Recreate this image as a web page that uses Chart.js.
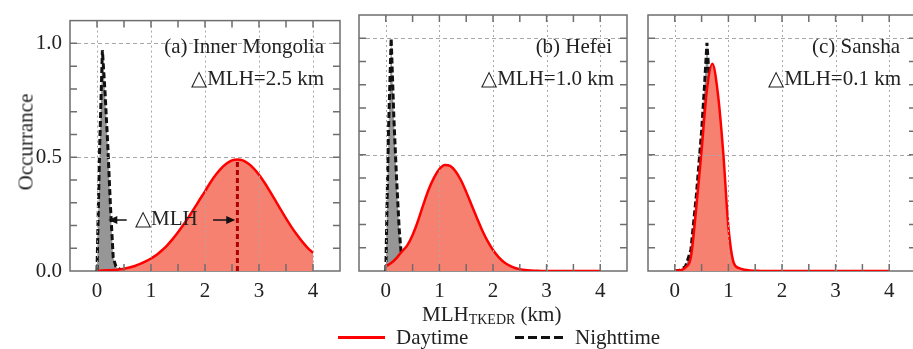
<!DOCTYPE html>
<html><head><meta charset="utf-8">
<script src="https://cdn.jsdelivr.net/npm/chart.js@4"></script>
<style>
html,body{margin:0;padding:0;width:913px;height:349px;overflow:hidden;background:#fff;font-family:"Liberation Serif","Times New Roman",serif;color:#222;}
.p{position:absolute;top:0;height:310px;}
.t{position:absolute;font-size:21px;white-space:nowrap;line-height:1;}
</style></head><body>
<div class="p" style="left:0;width:350px"><canvas id="ca"></canvas></div>
<div class="p" style="left:350px;width:287px"><canvas id="cb"></canvas></div>
<div class="p" style="left:637px;width:289px"><canvas id="cc"></canvas></div>

<div class="t" style="right:589px;top:36px">(a) Inner Mongolia</div>
<div class="t" style="right:589px;top:68px">△MLH=2.5 km</div>
<div class="t" style="left:135px;top:208px">△MLH</div>
<div class="t" style="right:301px;top:36px">(b) Hefei</div>
<div class="t" style="right:299px;top:68px">△MLH=1.0 km</div>
<div class="t" style="right:13px;top:36px">(c) Sansha</div>
<div class="t" style="right:12px;top:68px">△MLH=0.1 km</div>

<div class="t" style="left:26px;top:142px;transform:translate(-50%,-50%) rotate(-90deg)">Occurrance</div>
<div class="t" style="left:422px;top:304px">MLH<span style="font-size:14px;vertical-align:-3px">TKEDR</span> (km)</div>

<div style="position:absolute;left:338px;top:336px;width:47px;height:2.5px;background:#f00"></div>
<div class="t" style="left:396px;top:327px">Daytime</div>
<div style="position:absolute;left:515px;top:336px;width:50px;height:3px;background:repeating-linear-gradient(90deg,#111 0 9px,transparent 9px 13px)"></div>
<div class="t" style="left:575px;top:327px">Nighttime</div>

<script>
// ---- data ----
const xDay = [0,0.1,0.2,0.3,0.4,0.5,0.6,0.7,0.8,0.9,1.0,1.1,1.2,1.3,1.4,1.5,1.6,1.7,1.8,1.9,2.0,2.1,2.2,2.3,2.4,2.5,2.6,2.7,2.8,2.9,3.0,3.1,3.2,3.3,3.4,3.5,3.6,3.7,3.8,3.9,4.0];
const dayA = [0.001,0.002,0.003,0.004,0.006,0.010,0.015,0.022,0.031,0.042,0.055,0.070,0.090,0.113,0.140,0.170,0.203,0.238,0.275,0.313,0.350,0.389,0.423,0.451,0.472,0.486,0.490,0.486,0.472,0.451,0.423,0.389,0.351,0.311,0.271,0.231,0.194,0.160,0.129,0.102,0.080];
const dayB = [0.020,0.034,0.055,0.084,0.110,0.155,0.215,0.285,0.350,0.401,0.438,0.456,0.452,0.429,0.391,0.340,0.284,0.228,0.174,0.128,0.090,0.061,0.039,0.024,0.014,0.008,0.004,0.002,0.001,0,0,0,0,0,0,0,0,0,0,0,0];
const dayC = [0,0.003,0.015,0.060,0.270,0.520,0.780,0.890,0.770,0.520,0.190,0.035,0.012,0.005,0.002,0.001,0,0,0,0,0,0,0,0,0,0,0,0,0,0,0,0,0,0,0,0,0,0,0,0,0];
const xNight = [0,0.05,0.1,0.15,0.2,0.25,0.3,0.35,0.4,0.5];
const nightA = [0,0.55,0.97,0.78,0.55,0.28,0.06,0.02,0.01,0];
const nightB = [0,0.60,1.00,0.66,0.40,0.18,0.04,0.01,0.005,0];
const xNightC = [0,0.1,0.2,0.3,0.4,0.5,0.55,0.6,0.65,0.7,0.8,0.9,1.0,1.1,1.2];
const nightC = [0,0.003,0.02,0.09,0.32,0.60,0.78,0.98,0.80,0.60,0.35,0.15,0.05,0.01,0];
const peakXA = [2.6, 2.6];
const peakYA = [0, 0.49];
const arrowFromX = [0.55, 2.15];
const arrowToX = [0.21, 2.56];
const arrowY = [0.224, 0.224];
const xTickValues = [0,1,2,3,4];
const xTickLabels = ['0','1','2','3','4'];
const yTickValues = [0,0.5,1.0];
const yTickLabels = ['0.0','0.5','1.0'];
const xMinor = [0,0.5,1,1.5,2,2.5,3,3.5,4];
const yMinor = [0.1,0.2,0.3,0.4,0.5,0.6,0.7,0.8,0.9,1.0];
const xGrid = [0,1,2,3,4];
const yGrid = [0.5,1.0];

Chart.defaults.font.family = '"Liberation Serif","Times New Roman",serif';
Chart.defaults.color = '#222';

const pts = (xs, ys) => xs.map((x,i)=>({x:x, y:ys[i]}));

const framePlugin = {
  id:'frame',
  beforeDatasetsDraw(chart){
    const {ctx, chartArea:a} = chart;
    ctx.save();
    ctx.strokeStyle = '#6e6e6e'; ctx.lineWidth = 1.5;
    ctx.strokeRect(a.left, a.top, a.right-a.left, a.bottom-a.top);
    ctx.restore();
  },
  afterDatasetsDraw(chart){
    const {ctx, chartArea:a, scales:{x,y}} = chart;
    ctx.save();
    ctx.strokeStyle = '#a8a8a8'; ctx.lineWidth = 1;
    ctx.setLineDash([2,3]);
    xGrid.forEach(v=>{const p=Math.round(x.getPixelForValue(v))+0.5; ctx.beginPath(); ctx.moveTo(p,a.top); ctx.lineTo(p,a.bottom); ctx.stroke();});
    ctx.setLineDash([4,3]);
    yGrid.forEach(v=>{const p=Math.round(y.getPixelForValue(v))+0.5; ctx.beginPath(); ctx.moveTo(a.left,p); ctx.lineTo(a.right,p); ctx.stroke();});
    ctx.setLineDash([]);
    ctx.strokeStyle = '#6e6e6e'; ctx.lineWidth = 1.5;
    const L = 7;
    xMinor.forEach(v=>{const p=x.getPixelForValue(v); ctx.beginPath(); ctx.moveTo(p,a.bottom); ctx.lineTo(p,a.bottom-L); ctx.moveTo(p,a.top); ctx.lineTo(p,a.top+L); ctx.stroke();});
    yMinor.forEach(v=>{const p=y.getPixelForValue(v); ctx.beginPath(); ctx.moveTo(a.left,p); ctx.lineTo(a.left+L,p); ctx.moveTo(a.right,p); ctx.lineTo(a.right-L,p); ctx.stroke();});
    if (chart.options.plugins.frame && chart.options.plugins.frame.arrows) {
      ctx.strokeStyle = '#111'; ctx.fillStyle = '#111'; ctx.lineWidth = 1.5;
      arrowFromX.forEach((fx,i)=>{
        const x0 = x.getPixelForValue(fx), x1 = x.getPixelForValue(arrowToX[i]), py = y.getPixelForValue(arrowY[i]);
        const dir = Math.sign(x1-x0);
        ctx.beginPath(); ctx.moveTo(x0,py); ctx.lineTo(x1-dir*6,py); ctx.stroke();
        ctx.beginPath(); ctx.moveTo(x1,py); ctx.lineTo(x1-dir*9,py-4); ctx.lineTo(x1-dir*9,py+4); ctx.closePath(); ctx.fill();
      });
    }
    ctx.restore();
  }
};

function makeChart(id, datasets, padLeft, padRight, showY, arrows){
  return new Chart(document.getElementById(id), {
    type:'line',
    data:{datasets:datasets},
    options:{
      responsive:true, maintainAspectRatio:false, animation:false, events:[], devicePixelRatio:1,
      layout:{padding:{left:padLeft, right:padRight, top:15, bottom:0}},
      plugins:{legend:{display:false}, tooltip:{enabled:false}, frame:{arrows:arrows}},
      elements:{point:{radius:0}},
      scales:{
        x:{type:'linear', min:-0.5, max:4.5,
           grid:{display:false, drawTicks:false}, border:{display:false},
           afterBuildTicks:s=>{ s.ticks = xTickValues.map(v=>({value:v})); },
           ticks:{font:{size:21}, color:'#222', padding:8, maxRotation:0, autoSkip:false,
                  callback:(v)=>xTickLabels[xTickValues.indexOf(v)]},
           afterFit:s=>{ s.height = 39; }},
        y:{type:'linear', min:0, max:1.1, display:showY,
           grid:{display:false, drawTicks:false}, border:{display:false},
           afterBuildTicks:s=>{ s.ticks = yTickValues.map(v=>({value:v})); },
           ticks:{font:{size:21}, color:'#222', padding:8,
                  callback:(v)=>yTickLabels[yTickValues.indexOf(v)]},
           afterFit:s=>{ s.width = showY ? 70 : 0; }}
      }
    },
    plugins:[framePlugin]
  });
}

const dayStyle = {borderColor:'#ff0000', borderWidth:2.5, backgroundColor:'rgb(247,129,113)', fill:'origin', cubicInterpolationMode:'monotone', pointRadius:0};
const nightStyle = {borderColor:'#111', borderWidth:3, borderDash:[6,3], backgroundColor:'rgb(150,150,150)', fill:'origin', tension:0, pointRadius:0};

makeChart('ca', [
  {label:'peak', data:pts(peakXA, peakYA), borderColor:'#b00000', borderWidth:3, borderDash:[5,3], fill:false, pointRadius:0},
  Object.assign({label:'Daytime', data:pts(xDay, dayA)}, dayStyle),
  Object.assign({label:'Nighttime', data:pts(xNight, nightA)}, nightStyle)
], 0, 10, true, true);

makeChart('cb', [
  Object.assign({label:'Daytime', data:pts(xDay, dayB)}, dayStyle),
  Object.assign({label:'Nighttime', data:pts(xNight, nightB)}, nightStyle)
], 9, 10, false, false);

makeChart('cc', [
  Object.assign({label:'Daytime', data:pts(xDay, dayC)}, dayStyle),
  Object.assign({label:'Nighttime', data:pts(xNightC, nightC)}, nightStyle)
], 11, 10, false, false);
</script>
</body></html>
